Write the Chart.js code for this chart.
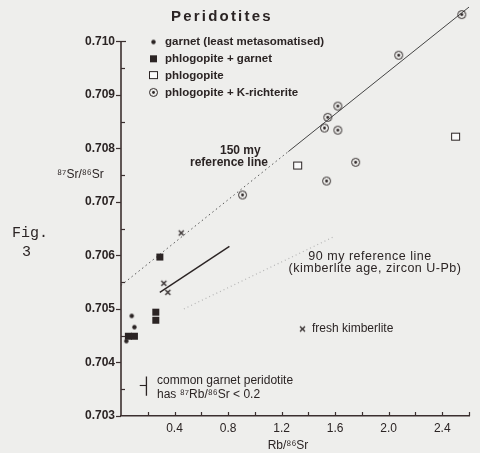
<!DOCTYPE html>
<html lang="en">
<head>
<meta charset="UTF-8">
<title>Peridotites</title>
<script src="https://cdn.jsdelivr.net/npm/chart.js"></script>
<style>
  html, body { margin: 0; padding: 0; background: #eeeeec; }
  #wrap { width: 480px; height: 453px; }
</style>
</head>
<body>
<div id="wrap"><canvas id="grafico" width="480" height="453"></canvas></div>
<script>
// data: x = Rb/86Sr, y = 87Sr/86Sr
var garnetX = [0.08, 0.10, 0.04];
var garnetY = [0.70487, 0.70466, 0.70440];

var phlGarnetX = [0.29, 0.26, 0.26, 0.055, 0.10];
var phlGarnetY = [0.70597, 0.70494, 0.70479, 0.70449, 0.70449];

var phlogopiteX = [1.32, 2.50];
var phlogopiteY = [0.70767, 0.70821];

var richteriteX = [2.546, 2.075, 1.62, 1.545, 1.52, 1.62, 1.536, 1.753, 0.908];
var richteriteY = [0.71050, 0.70974, 0.70879, 0.70858, 0.70838, 0.70834, 0.70739, 0.70774, 0.70713];

var kimberliteX = [0.45, 0.32, 0.35];
var kimberliteY = [0.70642, 0.70548, 0.70531];

// reference lines (end points)
var ref150DotX = [0, 1.25];
var ref150DotY = [0.70544, 0.70794];
var ref150X = [1.25, 2.6];
var ref150Y = [0.70794, 0.71064];
var ref90X = [0.47, 1.6];
var ref90Y = [0.70500, 0.70636];
var shortX = [0.29, 0.81];
var shortY = [0.70531, 0.70617];
var limitVX = [0.19, 0.19];
var limitVY = [0.70374, 0.70338];
var limitHX = [0.14, 0.19];
var limitHY = [0.70357, 0.70357];

var xTicks = [0.4, 0.8, 1.2, 1.6, 2.0, 2.4];
var yTicks = [0.703, 0.704, 0.705, 0.706, 0.707, 0.708, 0.709, 0.710];

var tinta = '#2b2424';
var eixo = '#3b2f2f';

function pares(xs, ys) {
  return xs.map(function (x, i) { return { x: x, y: ys[i] }; });
}

function marcador(tipo) {
  var c = document.createElement('canvas');
  c.width = 11; c.height = 11;
  var g = c.getContext('2d');
  g.strokeStyle = tinta; g.fillStyle = tinta;
  if (tipo == 'garnet') {
    g.beginPath(); g.arc(5.5, 5.5, 2.2, 0, Math.PI * 2); g.fill();
  } else if (tipo == 'phlgar') {
    g.fillRect(2, 2, 7, 7);
  } else if (tipo == 'phl') {
    g.fillStyle = '#fafafa';
    g.fillRect(1.5, 1.5, 8, 7);
    g.lineWidth = 1;
    g.strokeRect(1.5, 1.5, 8, 7);
  } else if (tipo == 'kr') {
    g.lineWidth = 1;
    g.beginPath(); g.arc(5.5, 5.5, 4, 0, Math.PI * 2); g.stroke();
    g.beginPath(); g.arc(5.5, 5.5, 1.4, 0, Math.PI * 2); g.fill();
  } else if (tipo == 'x') {
    g.lineWidth = 1.2;
    g.beginPath();
    g.moveTo(3, 3); g.lineTo(8, 8); g.moveTo(8, 3); g.lineTo(3, 8);
    g.stroke();
  }
  return c;
}

var mGarnet = marcador('garnet');
var mPhlGar = marcador('phlgar');
var mPhl = marcador('phl');
var mKr = marcador('kr');
var mX = marcador('x');

function linha(xs, ys, cor, larg, traco) {
  return {
    data: pares(xs, ys), showLine: true, pointRadius: 0, clip: false,
    borderColor: cor, borderWidth: larg, borderDash: traco || [], order: 2
  };
}

function pontos(xs, ys, img) {
  return { data: pares(xs, ys), pointStyle: img, pointRadius: 5, clip: false, order: 1 };
}

// axis line, ticks, texts and legend
var extras = {
  id: 'extras',
  afterDraw: function (chart) {
    var ctx = chart.ctx;
    var xs = chart.scales.x, ys = chart.scales.y;
    var topo = Math.round(ys.getPixelForValue(0.710)) + 0.5;
    ctx.save();
    ctx.strokeStyle = eixo;
    // y axis line only up to 0.710
    ctx.lineWidth = 1.6;
    ctx.beginPath(); ctx.moveTo(xs.left, topo); ctx.lineTo(xs.left, ys.bottom); ctx.stroke();
    ctx.lineWidth = 1.2;
    // y ticks: major to the left, minor to the right
    for (var v = 0.703; v <= 0.71001; v += 0.0005) {
      var py = Math.round(ys.getPixelForValue(v)) + 0.5;
      var maior = Math.abs(Math.round(v * 10000) % 10) < 1;
      ctx.beginPath();
      if (maior) { ctx.moveTo(xs.left - 5, py); ctx.lineTo(xs.left, py); }
      else { ctx.moveTo(xs.left, py); ctx.lineTo(xs.left + 4, py); }
      ctx.stroke();
    }
    ctx.beginPath();
    ctx.moveTo(xs.left, topo); ctx.lineTo(xs.left + 5, topo);
    ctx.stroke();
    // x ticks inside, every 0.2
    for (var t = 0.2; t <= 2.61; t += 0.2) {
      var px = Math.round(xs.getPixelForValue(t)) + 0.5;
      ctx.beginPath(); ctx.moveTo(px, ys.bottom); ctx.lineTo(px, ys.bottom - 4); ctx.stroke();
    }

    ctx.fillStyle = tinta;
    ctx.textBaseline = 'middle';
    // title
    ctx.font = 'bold 15px "Liberation Sans", Arial';
    ctx.letterSpacing = '2.2px';
    ctx.fillText('Peridotites', 171, 17);
    ctx.letterSpacing = '0px';

    // legend
    var leg = [
      [mGarnet, 'garnet (least metasomatised)'],
      [mPhlGar, 'phlogopite + garnet'],
      [mPhl, 'phlogopite'],
      [mKr, 'phlogopite + K-richterite']
    ];
    ctx.font = 'bold 11.5px "Liberation Sans", Arial';
    leg.forEach(function (l, i) {
      var yy = 42 + i * 16.8;
      ctx.drawImage(l[0], 148, yy - 5.5);
      ctx.fillText(l[1], 165, yy);
    });

    ctx.font = 'bold 12px "Liberation Sans", Arial';
    ctx.fillText('150 my', 220, 151);
    ctx.fillText('reference line', 190, 163);

    ctx.font = '12.5px "Liberation Sans", Arial';
    ctx.letterSpacing = '0.5px';
    ctx.textAlign = 'center';
    ctx.fillText('90 my reference line', 370, 257);
    ctx.fillText('(kimberlite age, zircon U-Pb)', 375, 269);
    ctx.letterSpacing = '0px';
    ctx.font = '12px "Liberation Sans", Arial';
    ctx.textAlign = 'left';
    ctx.drawImage(mX, 297, 323.5);
    ctx.fillText('fresh kimberlite', 312, 329);
    ctx.fillText('common garnet peridotite', 157, 381);
    ctx.fillText('has \u2078\u2077Rb/\u2078\u2076Sr < 0.2', 157, 395);

    // axis titles
    ctx.fillText('\u2078\u2077Sr/\u2078\u2076Sr', 57, 175);
    ctx.textAlign = 'center';
    ctx.fillText('Rb/\u2078\u2076Sr', 288, 446);

    ctx.font = '15px "Liberation Mono", "Courier New", monospace';
    ctx.textAlign = 'left';
    ctx.fillText('Fig.', 12, 233);
    ctx.fillText('3', 22, 252);
    ctx.restore();
  }
};

new Chart(document.getElementById('grafico'), {
  type: 'scatter',
  data: {
    datasets: [
      linha(ref150DotX, ref150DotY, '#555', 1, [1.5, 3]),
      linha(ref150X, ref150Y, '#444', 1),
      linha(ref90X, ref90Y, '#b5b5b5', 1.2, [1, 3]),
      linha(shortX, shortY, '#2b2424', 1.4),
      linha(limitVX, limitVY, '#2b2424', 1.3),
      linha(limitHX, limitHY, '#2b2424', 1.1),
      pontos(garnetX, garnetY, mGarnet),
      pontos(phlGarnetX, phlGarnetY, mPhlGar),
      pontos(phlogopiteX, phlogopiteY, mPhl),
      pontos(richteriteX, richteriteY, mKr),
      pontos(kimberliteX, kimberliteY, mX)
    ]
  },
  options: {
    responsive: false,
    animation: false,
    layout: { padding: { left: 0, right: 11, top: 1.3, bottom: 0 } },
    plugins: { legend: { display: false }, tooltip: { enabled: false } },
    scales: {
      x: {
        type: 'linear', min: 0, max: 2.6,
        afterBuildTicks: function (s) { s.ticks = xTicks.map(function (v) { return { value: v }; }); },
        afterFit: function (s) { s.height = 37; s.paddingLeft = 0; s.paddingRight = 0; },
        grid: { display: false, drawTicks: false },
        border: { color: eixo, width: 1.6 },
        ticks: {
          color: tinta, padding: 5, maxRotation: 0, autoSkip: false,
          font: { family: '"Liberation Sans", Arial', size: 12 },
          callback: function (v) { return v.toFixed(1); }
        }
      },
      y: {
        type: 'linear', min: 0.703, max: 0.71066,
        afterBuildTicks: function (s) { s.ticks = yTicks.map(function (v) { return { value: v }; }); },
        afterFit: function (s) { s.width = 121; s.paddingTop = 0; s.paddingBottom = 0; },
        grid: { display: false, drawTicks: false },
        border: { display: false },
        ticks: {
          color: tinta, padding: 6, autoSkip: false,
          font: { family: '"Liberation Sans", Arial', size: 12, weight: 'bold' },
          callback: function (v) { return v.toFixed(3); }
        }
      }
    }
  },
  plugins: [extras]
});
</script>
</body>
</html>
